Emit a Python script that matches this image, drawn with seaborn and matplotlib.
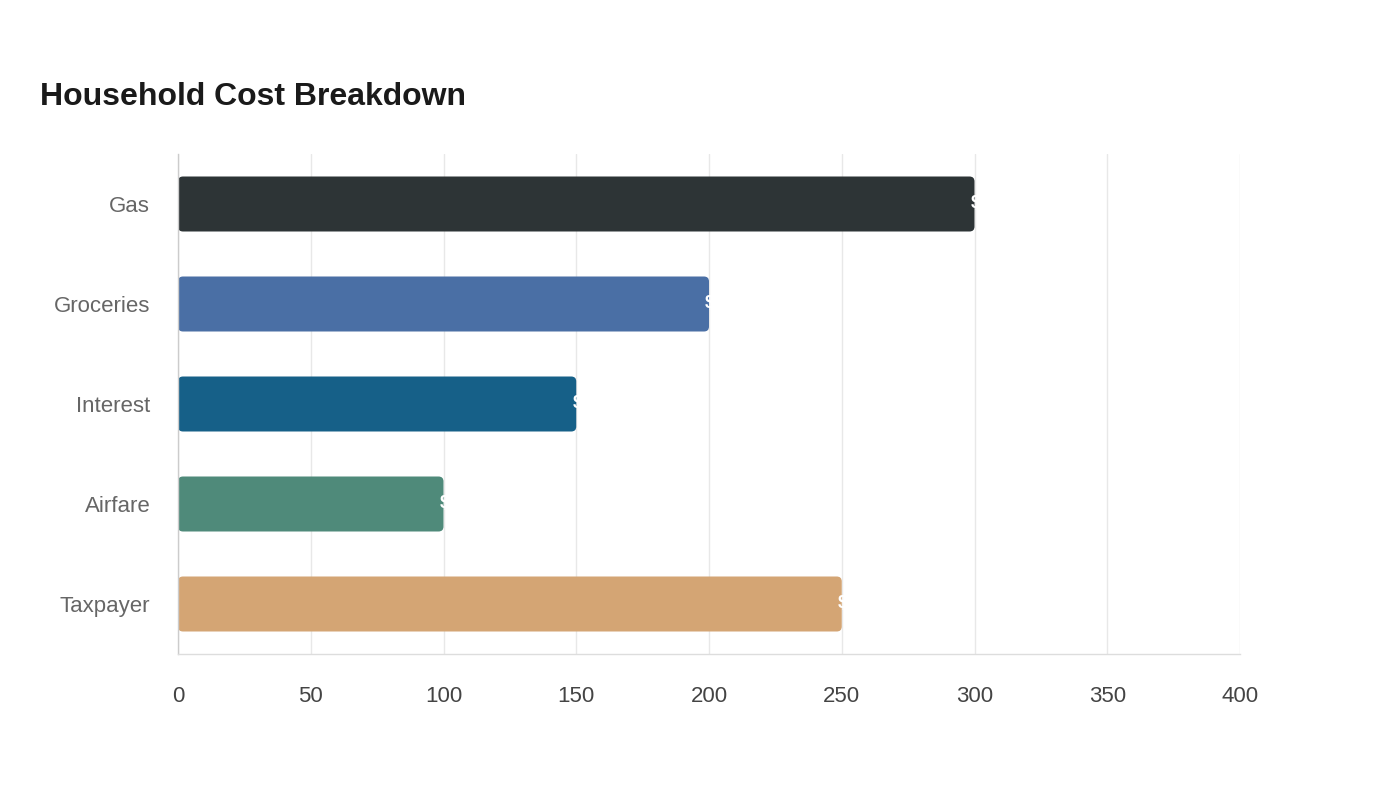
import matplotlib
matplotlib.use("Agg")
import matplotlib.pyplot as plt
import seaborn as sns
import pandas as pd
from matplotlib.patches import FancyBboxPatch

categories = ["Gas", "Groceries", "Interest", "Airfare", "Taxpayer"]
values = [300, 200, 150, 100, 250]
colors = ["#2d3436", "#4a6fa5", "#166088", "#4f8a7a", "#d4a574"]
x_ticks = [0, 50, 100, 150, 200, 250, 300, 350, 400]

sns.set_theme(style="white")
plt.rcParams["font.family"] = ["Liberation Sans", "DejaVu Sans"]

df = pd.DataFrame({"category": categories, "value": values})

fig = plt.figure(figsize=(14, 8), dpi=100)
ax = fig.add_axes([178/1400, 146/800, 1062/1400, 500/800])

sns.barplot(data=df, x="value", y="category", hue="category", palette=colors,
            orient="h", width=0.55, legend=False, ax=ax, saturation=1)

ax.set_xlim(0, 400)
ax.set_ylim(4.5, -0.5)

# replace bars with rounded ones
xu_per_px = 400 / 1062
yu_per_px = 5 / 500
for p in list(ax.patches):
    x0, y0 = p.get_x(), p.get_y()
    w, h = p.get_width(), p.get_height()
    fc = p.get_facecolor()
    p.remove()
    fb = FancyBboxPatch((x0, y0), w, h,
                        boxstyle=f"round,pad=0,rounding_size={5*xu_per_px}",
                        mutation_aspect=yu_per_px / xu_per_px,
                        facecolor=fc, edgecolor="none", zorder=2)
    ax.add_patch(fb)

for i, v in enumerate(values):
    ax.text(v - 1.5, i, f"${v}", color="white", fontsize=13, fontweight="bold",
            va="center", ha="left", zorder=3)

ax.set_xticks(x_ticks)
ax.set_xticklabels([str(t) for t in x_ticks])
ax.grid(axis="x", color="#e8e8e8", linewidth=1)
ax.grid(axis="y", visible=False)
ax.set_axisbelow(True)
for s in ["top", "right"]:
    ax.spines[s].set_visible(False)
ax.spines["left"].set_color("#cccccc")
ax.spines["bottom"].set_color("#dddddd")
ax.spines["left"].set_linewidth(1)
ax.spines["bottom"].set_linewidth(1)
ax.tick_params(axis="x", length=11, color="#e8e8e8", labelsize=16, labelcolor="#444444", pad=12)
ax.tick_params(axis="y", length=0, labelsize=16, labelcolor="#666666", pad=20)
ax.set_xlabel("")
ax.set_ylabel("")

fig.text(40/1400, 1 - 97/800, "Household Cost Breakdown", fontsize=23, fontweight="bold",
         color="#1a1a1a", ha="left", va="center")

fig.savefig("out.png", dpi=100, facecolor="white")
